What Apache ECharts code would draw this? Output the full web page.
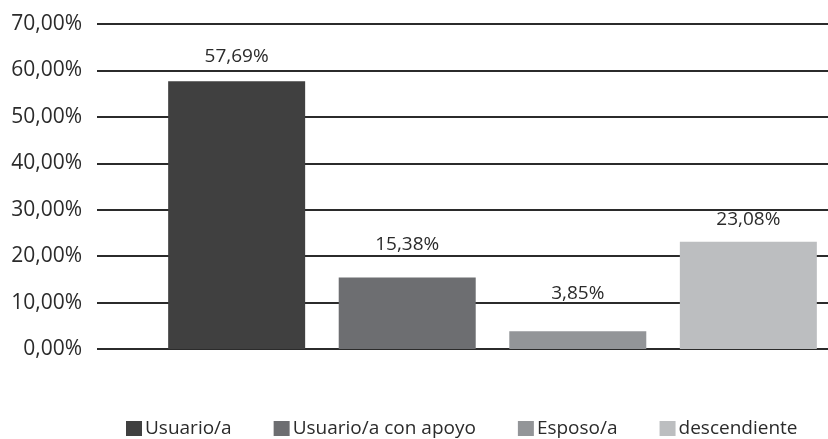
<!DOCTYPE html>
<html>
<head>
<meta charset="utf-8">
<script src="https://cdn.jsdelivr.net/npm/echarts@6/dist/echarts.min.js"></script>
<style>
  html, body { margin: 0; padding: 0; background: #fff; }
  #chart { width: 828px; height: 439px; }
</style>
</head>
<body>
<div id="chart"></div>
<script>
// datos (porcentajes)
const seriesNames = ['Usuario/a', 'Usuario/a con apoyo', 'Esposo/a', 'descendiente'];
const seriesValues = [57.69, 15.38, 3.85, 23.08];
const barColors = ['#404040', '#6d6e71', '#939598', '#bcbec0'];
const labelLift = [15, 23, 28, 12];

const fmt = (v) => v.toFixed(2).replace('.', ',') + '%';
const font = '"Open Sans", "Noto Sans", sans-serif';

const myChart = echarts.init(document.getElementById('chart'));

myChart.setOption({
  animation: false,
  // grid 0: lineas y etiquetas del eje; grid 1: barras (el area de Excel sigue a la derecha)
  grid: [
    { left: 97, right: 0, top: 24, bottom: 90 },
    { left: 157, right: 0, top: 24, bottom: 90 }
  ],
  legend: {
    left: 121,
    top: 414,
    itemWidth: 16,
    itemHeight: 15,
    itemGap: 42,
    icon: 'rect',
    textStyle: { fontFamily: font, fontSize: 19, color: '#2b2b2b', padding: [0, 0, 0, -2] },
    data: seriesNames
  },
  xAxis: [
    { type: 'category', gridIndex: 0, data: [''], show: false },
    { type: 'category', gridIndex: 1, data: [''], show: false }
  ],
  yAxis: [
    {
      type: 'value',
      gridIndex: 0,
      min: 0,
      max: 70,
      interval: 10,
      axisLine: { show: false },
      axisTick: { show: false },
      axisLabel: {
        margin: 15,
        fontFamily: font,
        fontSize: 21,
        color: '#2b2b2b',
        formatter: fmt
      },
      splitLine: { lineStyle: { color: '#2b2b2b', width: 2 } }
    },
    {
      type: 'value',
      gridIndex: 1,
      min: 0,
      max: 70,
      interval: 10,
      show: false,
      splitLine: { show: false }
    }
  ],
  series: seriesNames.map((name, i) => ({
    name: name,
    type: 'bar',
    xAxisIndex: 1,
    yAxisIndex: 1,
    barWidth: 137,
    barGap: '24.5%',
    itemStyle: { color: barColors[i] },
    label: {
      show: true,
      position: 'top',
      distance: labelLift[i],
      fontFamily: font,
      fontSize: 19,
      lineHeight: 20,
      color: '#2b2b2b',
      formatter: (p) => fmt(p.value)
    },
    data: [seriesValues[i]]
  }))
});
</script>
</body>
</html>
